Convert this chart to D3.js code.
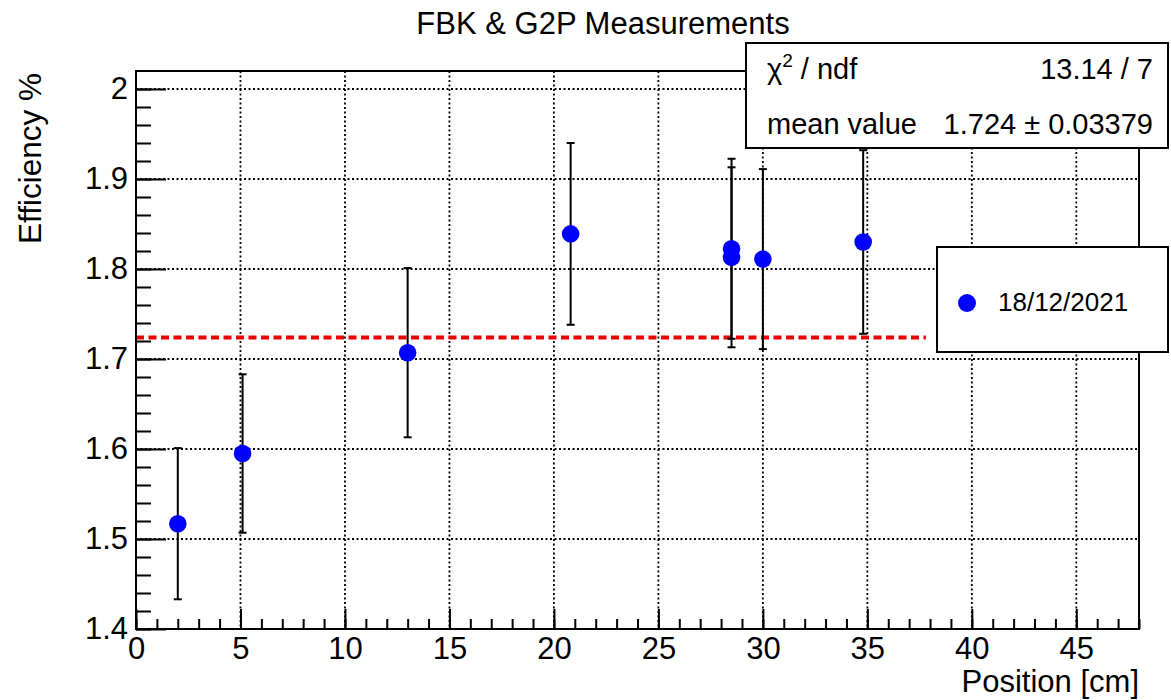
<!DOCTYPE html>
<html>
<head>
<meta charset="utf-8">
<script src="https://cdn.jsdelivr.net/npm/d3@7"></script>
<style>
  html, body { margin: 0; padding: 0; background: #fff; }
  svg text { font-family: "Liberation Sans", Arial, Helvetica, sans-serif; fill: #000; }
</style>
</head>
<body>
<svg id="chart" width="1171" height="700"></svg>
<script>
// Measurement positions (cm), efficiencies (%) and their uncertainties
const positions   = [2.0, 5.1, 13.0, 20.8, 28.5, 28.5, 30.0, 34.8];
const efficiency  = [1.517, 1.595, 1.707, 1.839, 1.8225, 1.813, 1.811, 1.830];
const uncertainty = [0.084, 0.088, 0.094, 0.101, 0.100, 0.100, 0.100, 0.102];

// Constant fit result
const fitMean  = 1.724;
const fitRange = [0, 37.8];
const statsRows = [
  { label: "ndf", value: "13.14 / 7", chi: true },
  { label: "mean value", value: "1.724 \u00b1 0.03379", chi: false }
];
const legendLabels = ["18/12/2021"];

// Axis ticks
const xMajorTicks = [0, 5, 10, 15, 20, 25, 30, 35, 40, 45];
const yMajorTicks = [1.4, 1.5, 1.6, 1.7, 1.8, 1.9, 2.0];
const xDomain = [0, 48];
const yDomain = [1.4, 2.02];

const svg = d3.select("#chart");
const frame = { left: 136, right: 1139, top: 71, bottom: 629 };

const x = d3.scaleLinear().domain(xDomain).range([frame.left, frame.right]);
const y = d3.scaleLinear().domain(yDomain).range([frame.bottom, frame.top]);

const points = positions.map((p, i) => ({ x: p, y: efficiency[i], e: uncertainty[i] }));

// Dotted grid at the major ticks
const grid = svg.append("g")
  .attr("stroke", "#000").attr("stroke-width", 1.8).attr("stroke-dasharray", "2,2.5");
grid.selectAll("line.gx").data(xMajorTicks.filter(d => d > xDomain[0]))
  .join("line")
  .attr("x1", d => x(d)).attr("x2", d => x(d))
  .attr("y1", frame.top).attr("y2", frame.bottom);
grid.selectAll("line.gy").data(yMajorTicks.filter(d => d > yDomain[0]))
  .join("line")
  .attr("x1", frame.left).attr("x2", frame.right)
  .attr("y1", d => y(d)).attr("y2", d => y(d));

// Axes with inward ticks
const xMinor = d3.range(0, 48.001, 1);
const yMinor = d3.range(0, 31).map(i => +(1.4 + i * 0.02).toFixed(2));

const xAxisMinor = d3.axisBottom(x).tickValues(xMinor).tickSize(-10).tickFormat("");
const xAxisMajor = d3.axisBottom(x).tickValues(xMajorTicks).tickSize(-20).tickPadding(8)
  .tickFormat(d3.format("d"));
const yAxisMinor = d3.axisLeft(y).tickValues(yMinor).tickSize(-15).tickFormat("");
const yAxisMajor = d3.axisLeft(y).tickValues(yMajorTicks).tickSize(-30).tickPadding(8)
  .tickFormat(d => String(+d.toFixed(1)));

function styleAxis(g) {
  g.select(".domain").remove();
  g.selectAll(".tick line").attr("stroke", "#000").attr("stroke-width", 2);
  g.selectAll(".tick text").attr("font-size", 31).attr("fill", "#000")
    .attr("font-family", "'Liberation Sans', Arial, sans-serif");
}

svg.append("g").attr("transform", `translate(0,${frame.bottom})`).call(xAxisMinor).call(styleAxis);
svg.append("g").attr("transform", `translate(0,${frame.bottom})`).call(xAxisMajor).call(styleAxis);
svg.append("g").attr("transform", `translate(${frame.left},0)`).call(yAxisMinor).call(styleAxis);
svg.append("g").attr("transform", `translate(${frame.left},0)`).call(yAxisMajor).call(styleAxis);

// Fit line
svg.append("line")
  .attr("x1", x(fitRange[0])).attr("x2", x(fitRange[1]))
  .attr("y1", y(fitMean)).attr("y2", y(fitMean))
  .attr("stroke", "#ee0000").attr("stroke-width", 4)
  .attr("stroke-dasharray", "8,4.5");

// Error bars
const eb = svg.append("g").attr("stroke", "#000").attr("stroke-width", 2);
eb.selectAll("line.bar").data(points).join("line")
  .attr("x1", d => x(d.x)).attr("x2", d => x(d.x))
  .attr("y1", d => y(d.y - d.e)).attr("y2", d => y(d.y + d.e));
eb.selectAll("line.capTop").data(points).join("line")
  .attr("x1", d => x(d.x) - 4).attr("x2", d => x(d.x) + 4)
  .attr("y1", d => y(d.y + d.e)).attr("y2", d => y(d.y + d.e));
eb.selectAll("line.capBot").data(points).join("line")
  .attr("x1", d => x(d.x) - 4).attr("x2", d => x(d.x) + 4)
  .attr("y1", d => y(d.y - d.e)).attr("y2", d => y(d.y - d.e));

// Markers
svg.append("g").selectAll("circle").data(points).join("circle")
  .attr("cx", d => x(d.x)).attr("cy", d => y(d.y)).attr("r", 8.8)
  .attr("fill", "#0000ff");

// Frame
svg.append("rect")
  .attr("x", frame.left).attr("y", frame.top)
  .attr("width", frame.right - frame.left).attr("height", frame.bottom - frame.top)
  .attr("fill", "none").attr("stroke", "#000").attr("stroke-width", 2);

// Title and axis titles
svg.append("text").attr("x", 603).attr("y", 34).attr("text-anchor", "middle")
  .attr("font-size", 31).text("FBK & G2P Measurements");
svg.append("text").attr("x", frame.right).attr("y", 692).attr("text-anchor", "end")
  .attr("font-size", 31).text("Position [cm]");
svg.append("text").attr("transform", `translate(41,${frame.top + 2}) rotate(-90)`)
  .attr("text-anchor", "end").attr("font-size", 31.5).text("Efficiency %");

// Fit statistics box
const stats = svg.append("g");
stats.append("rect").attr("x", 746).attr("y", 43).attr("width", 422).attr("height", 105)
  .attr("fill", "#fff").attr("stroke", "#000").attr("stroke-width", 2);
const rowY = [79, 134];
statsRows.forEach((r, i) => {
  const t = stats.append("text").attr("x", 767).attr("y", rowY[i]).attr("font-size", 29);
  if (r.chi) {
    t.append("tspan").text("\u03c7");
    t.append("tspan").attr("font-size", 19).attr("dy", -12).text("2");
    t.append("tspan").attr("dy", 12).text(" / " + r.label);
  } else {
    t.text(r.label);
  }
  stats.append("text").attr("x", 1153).attr("y", rowY[i]).attr("text-anchor", "end")
    .attr("font-size", 29).text(r.value);
});

// Legend
const legend = svg.append("g");
legend.append("rect").attr("x", 937).attr("y", 247).attr("width", 231).attr("height", 105)
  .attr("fill", "#fff").attr("stroke", "#000").attr("stroke-width", 2);
legendLabels.forEach((lab, i) => {
  legend.append("circle").attr("cx", 967).attr("cy", 303 + i * 40).attr("r", 9).attr("fill", "#0000ff");
  legend.append("text").attr("x", 998).attr("y", 311 + i * 40).attr("font-size", 26).text(lab);
});
</script>
</body>
</html>
